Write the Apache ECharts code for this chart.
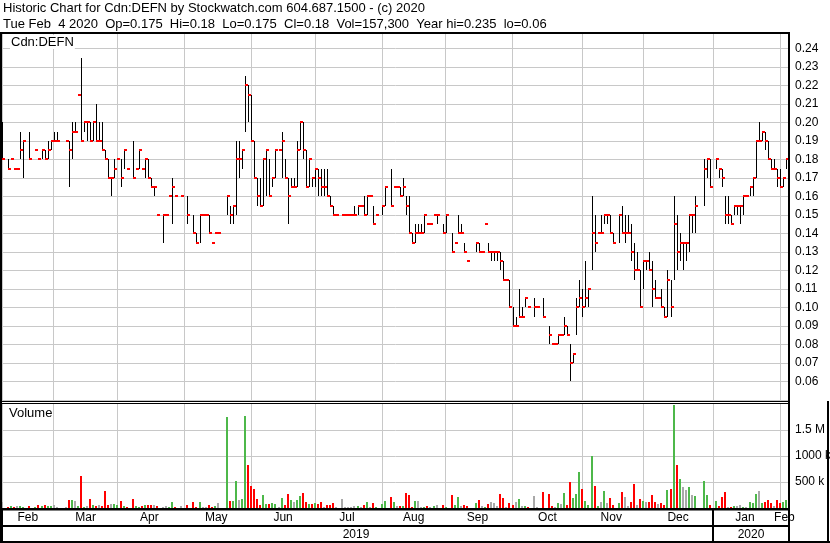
<!DOCTYPE html>
<html>
<head>
<meta charset="utf-8">
<script src="https://cdn.jsdelivr.net/npm/echarts/dist/echarts.min.js"></script>
<style>html,body{margin:0;padding:0;background:#fff}#chart{width:830px;height:543px}</style>
</head>
<body>
<div id="chart"></div>
<script>
// ---------------- data (one slot per trading day, Feb 2019 - Feb 4 2020) ----------------
const high = [
.20,null,.18,.18,.175,.175,.195,.19,null,.195,
null,.185,.18,.185,.185,.19,.19,.195,.195,null,
null,.19,.19,.20,.20,.215,.235,.20,.20,.20,
.20,.21,.20,.20,.185,.18,.17,.18,.18,.18,
.185,.175,null,.19,.175,.185,.175,.18,.18,.17,
.165,.15,null,.15,.15,.16,.17,.16,null,.16,
null,.16,null,.15,.14,.15,.15,.15,.15,.135,
.14,.14,null,null,.16,.155,.155,.19,.19,.185,
.225,.22,.215,.19,.17,.17,.18,.185,.18,.17,
.185,.185,.195,.18,.17,.17,.17,.19,.20,.20,
.185,.18,.17,.175,.175,.175,.175,.175,.16,.155,
.15,null,.15,.15,.15,.15,.155,.155,.155,.16,
.16,.16,.155,.15,null,.155,.165,null,.175,.165,
.165,.165,.17,.16,.16,.14,.145,.145,.145,.15,
.145,.145,.15,.15,null,.145,.15,null,.14,.135,
.15,.145,.135,.125,null,null,.135,.135,.13,.145,
.135,.13,.13,.13,.13,.125,.115,.115,.10,.095,
.11,.10,.105,.10,null,.105,.10,null,.105,null,
.09,.08,.08,.085,.085,.095,.09,.08,.075,.105,
.115,.11,.125,.11,.16,.15,.14,.15,.15,.15,
.15,.14,null,.15,.155,.15,.15,.145,.135,.13,
.12,.125,.125,.13,.125,.115,.105,.11,.10,.12,
.115,.16,.15,.14,.135,.135,.15,.15,.16,null,
null,.18,.18,.18,null,.18,.175,.175,.16,.16,
.15,.155,.155,.155,.16,.16,.165,.17,.19,.20,
.195,.195,.19,.18,.18,.175,.175,.17,.18
];
const low = [
.18,null,.175,.18,.175,.175,.18,.17,null,.18,
null,.185,.18,.18,.18,.18,.185,.19,.19,null,
null,.19,.165,.18,.195,.215,.19,.195,.19,.19,
.19,.19,.19,.185,.18,.17,.16,.17,.18,.165,
.175,.175,null,.17,.175,.175,.175,.17,.17,.165,
.16,.15,null,.135,.15,.16,.145,.16,null,.16,
null,.145,null,.14,.135,.135,.15,.15,.14,.135,
.14,.14,null,null,.15,.145,.145,.15,.17,.175,
.195,.20,.19,.17,.155,.155,.155,.16,.16,.165,
.17,.185,.17,.17,.145,.165,.165,.165,.185,.18,
.165,.165,.165,.165,.16,.16,.16,.16,.155,.15,
.15,null,.15,.15,.15,.15,.15,.15,.155,.15,
.15,.16,.145,.15,null,.15,.155,null,.155,.165,
.165,.16,.16,.15,.14,.135,.135,.14,.14,.14,
.145,.145,.15,.145,null,.14,.14,null,.13,.135,
.14,.14,.13,.125,null,null,.13,.13,.13,.145,
.13,.125,.125,.125,.12,.115,.115,.10,.09,.09,
.095,.095,.10,.10,null,.095,.10,null,.095,null,
.08,.08,.08,.08,.085,.085,.085,.06,.07,.085,
.10,.095,.10,.10,.12,.13,.14,.14,.145,.145,
.14,.135,null,.135,.14,.135,.14,.125,.115,.12,
.10,.11,.12,.12,.10,.105,.105,.10,.095,.095,
.095,.115,.12,.125,.12,.125,.13,.14,.14,null,
null,.155,.17,.165,null,.175,.17,.165,.145,.145,
.145,.15,.15,.145,.15,.16,.16,.16,.17,.19,
.19,.185,.18,.175,.175,.165,.165,.165,.175
];
const close = [
.18,null,.175,.18,.175,.175,.185,.19,null,.18,
null,.185,.18,.185,.18,.185,.19,.19,.19,null,
null,.19,.185,.195,.195,.215,.19,.20,.20,.19,
.20,.19,.19,.185,.18,.17,.17,.175,.18,.17,
.185,.175,null,.17,.175,.185,.175,.18,.17,.165,
.165,.15,null,.15,.15,.16,.165,.16,null,.16,
null,.15,null,.14,.135,.15,.15,.15,.14,.135,
.14,.14,null,null,.16,.15,.155,.18,.18,.185,
.22,.215,.19,.17,.16,.155,.18,.185,.16,.17,
.185,.185,.19,.17,.16,.165,.165,.185,.20,.185,
.165,.18,.17,.175,.17,.165,.165,.16,.155,.15,
.15,null,.15,.15,.15,.15,.15,.155,.155,.15,
.16,.16,.145,.15,null,.155,.165,null,.155,.165,
.165,.16,.165,.155,.14,.135,.14,.14,.14,.15,
.145,.145,.15,.15,null,.14,.15,null,.13,.135,
.14,.14,.13,.125,null,null,.135,.13,.13,.145,
.13,.13,.13,.13,.125,.115,.115,.10,.09,.09,
.095,.095,.105,.10,null,.10,.10,null,.095,null,
.085,.08,.08,.085,.085,.09,.085,.07,.075,.10,
.105,.10,.105,.11,.14,.135,.14,.14,.15,.15,
.14,.135,null,.15,.14,.14,.14,.13,.12,.12,
.10,.125,.125,.12,.11,.105,.105,.10,.095,.115,
.10,.145,.13,.135,.135,.135,.15,.15,.155,null,
null,.175,.18,.165,null,.18,.175,.17,.15,.15,
.145,.155,.155,.155,.16,.16,.165,.17,.19,.19,
.195,.19,.18,.175,.175,.17,.165,.17,.18
];
// volume in thousands of shares
const volume = [
115,null,19,38,19,38,38,26,null,38,
null,19,58,38,58,38,38,58,19,null,
null,19,154,154,135,38,615,19,38,173,
58,38,58,38,327,58,77,77,58,135,
38,19,null,173,38,19,38,58,58,58,
58,38,null,19,38,19,115,19,null,38,
null,58,null,115,19,115,19,19,58,19,
38,96,null,null,1750,135,135,519,154,173,
1770,827,423,365,173,58,250,77,77,96,
77,19,192,58,269,154,115,154,231,288,
115,77,77,96,77,115,19,58,58,96,
19,null,173,19,19,19,38,38,19,58,
115,19,96,19,null,77,135,null,212,115,
38,38,38,288,250,19,135,135,19,19,
38,19,38,58,null,58,19,null,250,58,
212,38,58,38,null,null,96,154,38,19,
77,115,96,38,269,192,19,96,58,115,
173,38,38,19,null,231,19,null,308,null,
269,38,19,96,77,288,58,500,192,269,
692,365,135,58,1000,423,38,115,327,96,
192,58,null,96,308,212,38,115,462,58,
173,135,115,115,250,115,77,96,58,346,
365,1980,827,558,404,346,404,250,231,null,
null,519,250,58,null,135,38,212,308,19,
19,38,38,58,19,19,115,96,269,327,
96,115,154,96,38,154,96,115,157
];
const monthNames = ['Feb','Mar','Apr','May','Jun','Jul','Aug','Sep','Oct','Nov','Dec','Jan','Feb'];
const monthStart = [0,17,38,60,82,103,125,146,168,191,211,234,256];
const yearNames = ['2019','2020'];
const yearStart = [0,234];
const priceTicks = [0.06,0.24];       // labelled price range
const volumeLabels = {500:'500 k',1000:'1000 k',1500:'1.5 M'};

// ---------------- derived ----------------
const N = close.length;
const cats = close.map((_, i) => String(i));
const priceData = [];
const volData = [];
const volColor = [];
let prev = null;
for (let i = 0; i < N; i++) {
  if (close[i] == null) { volColor.push(null); continue; }
  priceData.push([i, high[i], low[i], close[i]]);
  let col = '#a9a9a9';
  if (prev != null && close[i] > prev + 1e-9) col = '#4db84a';
  else if (prev != null && close[i] < prev - 1e-9) col = '#ff0000';
  volColor.push(col);
  prev = close[i];
  if (volume[i] != null) volData.push([i, volume[i]]);
}
const monthMid = {};
monthStart.forEach((s, k) => {
  const e = k + 1 < monthStart.length ? monthStart[k + 1] : N;
  monthMid[Math.floor((s + e - 1) / 2)] = monthNames[k];
});
const yearMid = {};
yearStart.forEach((s, k) => {
  const e = k + 1 < yearStart.length ? yearStart[k + 1] : N;
  yearMid[Math.floor((s + e - 1) / 2)] = yearNames[k];
});
const isMonthStart = (i) => monthStart.indexOf(i) >= 0;
const isYearStart = (i) => yearStart.indexOf(i) >= 0;

const FONT = '"Liberation Sans", Arial, Helvetica, sans-serif';
const GRIDC = '#c8c8c8';

// price axis scale: 0.24 at y=48.3, 0.06 at y=381.3 ; grid 34..401
const PX = (381.3 - 48.3) / 18 / 0.01;
const pTop = 34, pBot = 401;
const pMax = 0.24 + (48.3 - pTop) / PX;
const pMin = 0.06 - (pBot - 381.3) / PX;

const chart = echarts.init(document.getElementById('chart'), null, {renderer: 'canvas'});

function renderPrice(params, api) {
  const i = api.value(0);
  const pH = api.coord([i, api.value(1)]);
  const pL = api.coord([i, api.value(2)]);
  const pC = api.coord([i, api.value(3)]);
  const x = Math.floor(pH[0] - 1) + 0.5;
  const children = [];
  if (pL[1] - pH[1] > 0.5) {
    children.push({type: 'line', shape: {x1: x, y1: Math.round(pH[1]), x2: x, y2: Math.round(pL[1])},
      style: {stroke: '#000', lineWidth: 1}});
  }
  children.push({type: 'rect', shape: {x: x - 0.5, y: Math.round(pC[1]) - 1, width: 3, height: 2},
    style: {fill: '#ff0000'}});
  return {type: 'group', children};
}
function renderVol(params, api) {
  const i = api.value(0);
  const p = api.coord([i, api.value(1)]);
  const b = api.coord([i, 0]);
  const x = Math.floor(p[0]) - 2;
  const top = Math.min(Math.round(p[1]), b[1] - 1);
  return {type: 'rect', shape: {x: x, y: top, width: 2, height: b[1] - top},
    style: {fill: volColor[i]}};
}

const frame = (x, y, w, h) => ({type: 'rect', z: 100, shape: {x, y, width: w, height: h}, style: {fill: '#000'}});

chart.setOption({
  animation: false,
  backgroundColor: '#fff',
  grid: [
    {left: 2, width: 787, top: pTop, height: pBot - pTop, outerBoundsMode: 'none'},
    {left: 2, width: 787, top: 404, height: 104, outerBoundsMode: 'none'}
  ],
  xAxis: [
    {gridIndex: 0, type: 'category', data: cats, boundaryGap: true,
     axisLine: {show: false}, axisTick: {show: false}, axisLabel: {show: false},
     splitLine: {show: true, interval: (i) => isMonthStart(i), lineStyle: {color: GRIDC, width: 1}}},
    {gridIndex: 1, type: 'category', data: cats, boundaryGap: true, position: 'bottom',
     axisLine: {show: false},
     axisTick: {show: true, interval: (i) => isYearStart(i), length: 17, lineStyle: {color: '#000', width: 2}},
     axisLabel: {show: true, interval: (i) => monthMid[i] !== undefined, formatter: (v, i) => monthMid[i] || '',
       margin: 4, color: '#000', fontSize: 12, fontFamily: FONT},
     splitLine: {show: true, interval: (i) => isMonthStart(i), lineStyle: {color: GRIDC, width: 1}}},
    {gridIndex: 1, type: 'category', data: cats, boundaryGap: true, position: 'bottom', offset: 18,
     axisLine: {show: true, lineStyle: {color: '#000', width: 2}},
     axisTick: {show: true, interval: (i) => isYearStart(i), length: 16, lineStyle: {color: '#000', width: 2}},
     axisLabel: {show: true, interval: (i) => yearMid[i] !== undefined, formatter: (v, i) => yearMid[i] || '',
       margin: 2.5, color: '#000', fontSize: 12, fontFamily: FONT},
     splitLine: {show: false}}
  ],
  yAxis: [
    {gridIndex: 0, type: 'value', position: 'right', min: pMin, max: pMax, minInterval: 0.01, maxInterval: 0.01,
     axisLine: {show: false}, axisTick: {show: false},
     axisLabel: {margin: 6, color: '#000', fontSize: 12, fontFamily: FONT,
       formatter: (v) => (v >= priceTicks[0] - 1e-4 && v <= priceTicks[1] + 1e-4) ? v.toFixed(2) : ''},
     splitLine: {show: true, showMinLine: false, showMaxLine: false, lineStyle: {color: GRIDC, width: 1}}},
    {gridIndex: 1, type: 'value', position: 'right', min: 0, max: 2000, interval: 500,
     axisLine: {show: false}, axisTick: {show: false},
     axisLabel: {margin: 6, color: '#000', fontSize: 12, fontFamily: FONT,
       formatter: (v) => volumeLabels[Math.round(v)] || ''},
     splitLine: {show: true, showMinLine: false, showMaxLine: false, lineStyle: {color: GRIDC, width: 1}}}
  ],
  series: [
    {type: 'custom', xAxisIndex: 0, yAxisIndex: 0, data: priceData, renderItem: renderPrice,
     encode: {x: 0, y: [1, 2, 3]}, silent: true, clip: false},
    {type: 'custom', xAxisIndex: 1, yAxisIndex: 1, data: volData, renderItem: renderVol,
     encode: {x: 0, y: 1}, silent: true}
  ],
  graphic: [
    {type: 'text', x: 3, y: 8, z: 100, style: {text: 'Historic Chart for Cdn:DEFN by Stockwatch.com 604.687.1500 - (c) 2020',
      font: '13px ' + FONT, fill: '#000', verticalAlign: 'middle'}},
    {type: 'text', x: 3, y: 24, z: 100, style: {text: 'Tue Feb  4 2020  Op=0.175  Hi=0.18  Lo=0.175  Cl=0.18  Vol=157,300  Year hi=0.235  lo=0.06',
      font: '13px ' + FONT, fill: '#000', verticalAlign: 'middle'}},
    {type: 'text', x: 10, y: 42, z: 100, style: {text: 'Cdn:DEFN', font: '13px ' + FONT, fill: '#000', verticalAlign: 'middle',
      backgroundColor: '#fff', padding: [1, 1, 0, 1]}},
    {type: 'text', x: 9, y: 413, z: 100, style: {text: 'Volume', font: '13px ' + FONT, fill: '#000', verticalAlign: 'middle'}},
    frame(0, 32, 790, 2),      // top
    frame(0, 32, 2, 511),      // left
    frame(788, 32, 2, 511),    // right of plots
    frame(0, 401, 790, 1),     // price panel bottom
    frame(0, 403, 790, 1),     // volume panel top
    frame(0, 508, 790, 2.5),   // volume baseline
    frame(0, 541, 830, 2),     // bottom
    frame(827, 401, 2, 142)    // right edge of volume block
  ]
});
</script>
</body>
</html>
